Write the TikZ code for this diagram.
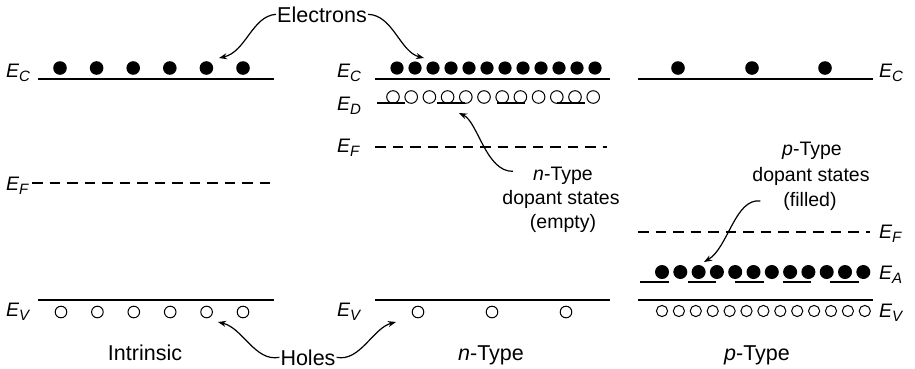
\documentclass[tikz,border=0pt]{standalone}
\usepackage{fontspec}
\setmainfont{Liberation Sans}
\usetikzlibrary{arrows.meta,positioning}

\newcommand{\lev}[1]{{\fontsize{19.5}{19.5}\selectfont\itshape E\raisebox{-4.5pt}{\fontsize{15}{15}\selectfont #1}}}

\tikzset{
  lvl/.style={line width=1.4pt},
  fermi/.style={line width=1.3pt,dash pattern=on 10.5pt off 7pt},
  elec/.style={fill=black},
  hole/.style={draw=black,line width=1pt},
  arr/.style={line width=1.2pt,-{Stealth[length=8pt,width=6pt]}},
  lbl/.style={font=\fontsize{21.5}{25}\selectfont,inner sep=1pt},
  note/.style={font=\fontsize{19.5}{25}\selectfont,inner sep=1pt},
  elab/.style={anchor=base west,inner sep=0pt},
}

\begin{document}
\begin{tikzpicture}[x=1pt,y=-1pt]
  \useasboundingbox (0,0) rectangle (915,368);
  % intrinsic
  \draw[lvl] (38,79) -- (274,79);
  \draw[fermi] (32,183) -- (270,183);
  \draw[lvl] (38,300) -- (274,300);
  \foreach \i in {0,...,5}{
    \fill[elec] (60+36.6*\i,68) circle (6.8pt);
    \draw[hole] (61+36.4*\i,312) circle (5.8pt);
  }
  % n-type
  \draw[lvl] (375,79) -- (610,79);
  \draw[line width=1.3pt,dash pattern=on 28pt off 32pt] (377,103) -- (610,103);
  \draw[fermi] (375,147) -- (607,147);
  \draw[lvl] (375,300) -- (610,300);
  \foreach \i in {0,...,11}{
    \fill[elec] (397+18*\i,68) circle (6.6pt);
    \draw[hole] (393+18.2*\i,97) circle (6.3pt);
  }
  \foreach \x in {418,492,566} \draw[hole] (\x,312) circle (5.8pt);
  % p-type
  \draw[lvl] (638,79) -- (873,79);
  \draw[fermi] (638,232) -- (870,232);
  \draw[line width=1.3pt,dash pattern=on 28.5pt off 19pt] (640,282) -- (873,282);
  \draw[lvl] (638,300) -- (873,300);
  \foreach \x in {678,752,825} \fill[elec] (\x,68) circle (6.8pt);
  \foreach \i in {0,...,11} \fill[elec] (662+18.3*\i,272) circle (7pt);
  \foreach \i in {0,...,12} \draw[hole] (662+16.9*\i,311) circle (5.6pt);

  % level labels
  \node[elab] (ecI) at (6,77) {\lev{C}};
  \node[elab] (efI) at (6,190) {\lev{F}};
  \node[elab] (evI) at (6,316) {\lev{V}};
  \node[elab] (ecN) at (337,77) {\lev{C}};
  \node[elab] (edN) at (337,110) {\lev{D}};
  \node[elab] (efN) at (337,152) {\lev{F}};
  \node[elab] (evN) at (337,316) {\lev{V}};
  \node[elab] (ecP) at (879,77) {\lev{C}};
  \node[elab] (efP) at (879,238) {\lev{F}};
  \node[elab] (eaP) at (879,279) {\lev{A}};
  \node[elab] (evP) at (879,317) {\lev{V}};

  % texts
  \node[lbl,anchor=base] (electrons) at (322,22) {Electrons};
  \node[lbl,anchor=base] (holes) at (308,365) {Holes};
  \node[lbl,anchor=base] (intr) at (145,360) {Intrinsic};
  \node[lbl,anchor=base] (ntyp) at (491,360) {\textit{n}-Type};
  \node[lbl,anchor=base] (ptyp) at (757,360) {\textit{p}-Type};
  \node[note,anchor=base] (nd1) at (563,180) {\textit{n}-Type};
  \node[note,anchor=base] (nd2) at (561,204) {dopant states};
  \node[note,anchor=base] (nd3) at (563,228) {(empty)};
  \node[note,anchor=base] (pd1) at (812,155) {\textit{p}-Type};
  \node[note,anchor=base] (pd2) at (811,181) {dopant states};
  \node[note,anchor=base] (pd3) at (810,206) {(filled)};

  % arrows
  \coordinate (tipEL) at (219,58);
  \coordinate (tipER) at (424,58);
  \coordinate (tipND) at (459,113);
  \coordinate (tipPA) at (704,262);
  \coordinate (tipHL) at (218,322);
  \coordinate (tipHR) at (396,322);
  \draw[arr] (electrons.west) .. controls (252,16) and (246,52) .. (tipEL);
  \draw[arr] (electrons.east) .. controls (393,15) and (400,52) .. (tipER);
  \draw[arr] ([shift={(-19pt,4pt)}]nd1.west) .. controls (486,172) and (478,122) .. (tipND);
  \draw[arr] ([xshift=-22pt]pd3.west) .. controls (735,198) and (728,248) .. (tipPA);
  \draw[arr] (holes.west) .. controls (255,362) and (243,328) .. (tipHL);
  \draw[arr] (holes.east) .. controls (360,362) and (373,328) .. (tipHR);
\end{tikzpicture}
\end{document}
